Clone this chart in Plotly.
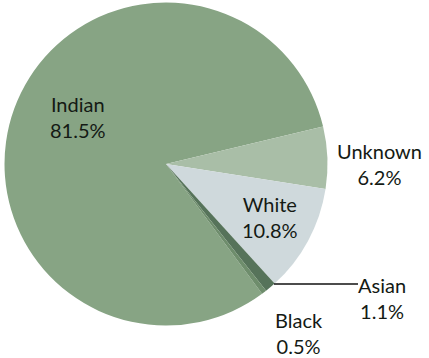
import plotly.graph_objects as go

# Share of cases by ethnicity (%)
categories = ["Indian", "Unknown", "White", "Asian", "Black"]
shares = [81.5, 6.2, 10.8, 1.1, 0.5]
slice_colors = ["#87a484", "#a9bea7", "#cfd9dc", "#56735a", "#6e8d6c"]

W, H = 429, 358

# label anchor points in pixels (x from left, y from top)
label_px = {
    "Indian": (78, 117),
    "Unknown": (379, 164),
    "White": (270, 217),
    "Asian": (382, 298),
    "Black": (299, 333),
}

# pie centre and radius in pixels
cx, cy, r = 166, 164, 161.5

fig = go.Figure(
    go.Pie(
        labels=categories,
        values=shares,
        sort=False,
        direction="clockwise",
        rotation=143.5,
        marker=dict(colors=slice_colors, line=dict(width=0)),
        textinfo="none",
        hoverinfo="label+value",
        showlegend=False,
        domain=dict(
            x=[(cx - r) / W, (cx + r) / W],
            y=[1 - (cy + r) / H, 1 - (cy - r) / H],
        ),
    )
)

annotations = []
for cat, val in zip(categories, shares):
    px, py = label_px[cat]
    annotations.append(
        dict(
            x=px / W,
            y=1 - py / H,
            xref="paper",
            yref="paper",
            text=f"{cat}<br>{val}%",
            showarrow=False,
            xanchor="center",
            yanchor="middle",
            align="center",
            font=dict(family="Lato, sans-serif", size=20, color="#141a14"),
        )
    )

# leader line for the small Asian slice
shapes = [
    dict(
        type="line",
        xref="paper",
        yref="paper",
        x0=274 / W,
        x1=358 / W,
        y0=1 - 284 / H,
        y1=1 - 284 / H,
        line=dict(color="#111111", width=1.5),
    )
]

fig.update_layout(
    width=W,
    height=H,
    margin=dict(l=0, r=0, t=0, b=0),
    paper_bgcolor="white",
    plot_bgcolor="white",
    annotations=annotations,
    shapes=shapes,
)

fig.write_html("out.html")
